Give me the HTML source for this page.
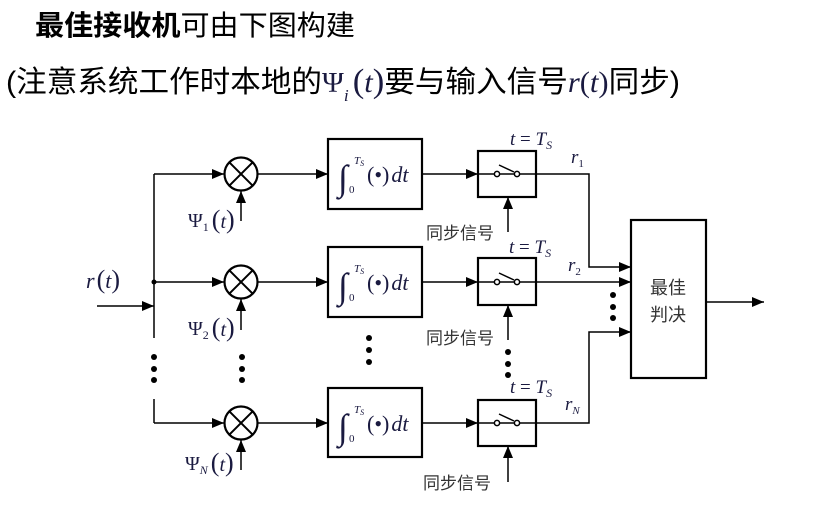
<!DOCTYPE html>
<html><head><meta charset="utf-8"><style>
html,body{margin:0;padding:0;background:#fff;width:833px;height:507px;overflow:hidden}
svg{display:block}
.cj{font-family:"Liberation Sans","Noto Sans CJK SC",sans-serif}
.m{font-family:"Liberation Serif",serif;fill:#1a1a40}
</style></head><body>
<svg width="833" height="507" viewBox="0 0 833 507" xmlns="http://www.w3.org/2000/svg">
<defs>
<marker id="au" markerWidth="12" markerHeight="10" refX="12" refY="5" orient="auto" markerUnits="userSpaceOnUse"><path d="M0,0 L12,5 L0,10 z" fill="#000"/></marker>
</defs>
<text x="35" y="35" class="cj" font-size="28" fill="#000" textLength="320" lengthAdjust="spacingAndGlyphs"><tspan font-weight="bold">最佳接收机</tspan>可由下图构建</text>
<text x="6" y="92" class="cj" font-size="30" fill="#000" textLength="674" lengthAdjust="spacingAndGlyphs">(注意系统工作时本地的<tspan class="m" font-size="29" fill="#000">Ψ</tspan><tspan class="m" font-size="17" font-style="italic" dy="9">i</tspan><tspan class="m" font-size="34" dy="-9" dx="4">(</tspan><tspan class="m" font-style="italic">t</tspan><tspan class="m" font-size="34">)</tspan>要与输入信号<tspan class="m" font-style="italic">r</tspan><tspan class="m">(</tspan><tspan class="m" font-style="italic">t</tspan><tspan class="m">)</tspan>同步)</text>

<g stroke="#000" stroke-width="1.5" fill="none">
<line x1="154" y1="174" x2="154" y2="338"/>
<line x1="154" y1="399" x2="154" y2="423"/>
<line x1="97" y1="306" x2="154" y2="306" marker-end="url(#au)"/>
<line x1="154" y1="174" x2="224" y2="174" marker-end="url(#au)"/>
<line x1="154" y1="282" x2="224" y2="282" marker-end="url(#au)"/>
<line x1="154" y1="423" x2="224" y2="423" marker-end="url(#au)"/>
<line x1="258" y1="174" x2="328" y2="174" marker-end="url(#au)"/>
<line x1="258" y1="282" x2="328" y2="282" marker-end="url(#au)"/>
<line x1="258" y1="423" x2="328" y2="423" marker-end="url(#au)"/>
<line x1="422" y1="174" x2="478" y2="174" marker-end="url(#au)"/>
<line x1="422" y1="282" x2="478" y2="282" marker-end="url(#au)"/>
<line x1="422" y1="423" x2="478" y2="423" marker-end="url(#au)"/>
<line x1="241" y1="221" x2="241" y2="191" marker-end="url(#au)"/>
<line x1="241" y1="330" x2="241" y2="299" marker-end="url(#au)"/>
<line x1="241" y1="470" x2="241" y2="440" marker-end="url(#au)"/>
<line x1="508" y1="232" x2="508" y2="197" marker-end="url(#au)"/>
<line x1="508" y1="340" x2="508" y2="305" marker-end="url(#au)"/>
<line x1="508" y1="482" x2="508" y2="446" marker-end="url(#au)"/>
<polyline points="536,174 589,174 589,267 631,267" marker-end="url(#au)"/>
<line x1="536" y1="282" x2="631" y2="282" marker-end="url(#au)"/>
<polyline points="536,423 589,423 589,332 631,332" marker-end="url(#au)"/>
<line x1="706" y1="302" x2="764" y2="302" marker-end="url(#au)"/>
</g>
<g stroke="#000" stroke-width="2.2" fill="#fff">
<circle cx="241" cy="174" r="16.5"/><circle cx="241" cy="282" r="16.5"/><circle cx="241" cy="423" r="16.5"/>
<rect x="328" y="139" width="94" height="70"/><rect x="328" y="247" width="94" height="70"/><rect x="328" y="388" width="94" height="69"/>
<rect x="478" y="151" width="58" height="46"/><rect x="478" y="258" width="58" height="47"/><rect x="478" y="400" width="58" height="46"/>
<rect x="631" y="220" width="75" height="158"/>
</g>
<g stroke="#000" stroke-width="2">
<path d="M229.3,162.3 L252.7,185.7 M252.7,162.3 L229.3,185.7"/>
<path d="M229.3,270.3 L252.7,293.7 M252.7,270.3 L229.3,293.7"/>
<path d="M229.3,411.3 L252.7,434.7 M252.7,411.3 L229.3,434.7"/>
</g>
<g stroke="#000" stroke-width="1.5">
<line x1="478" y1="174" x2="536" y2="174"/><line x1="478" y1="282" x2="536" y2="282"/><line x1="478" y1="423" x2="536" y2="423"/>
<line x1="499" y1="165" x2="514" y2="172"/><line x1="499" y1="273" x2="514" y2="280"/><line x1="499" y1="414" x2="514" y2="421"/>
</g>
<g stroke="#000" stroke-width="1.5" fill="#fff">
<circle cx="497" cy="174" r="2.6"/><circle cx="517" cy="174" r="2.6"/>
<circle cx="497" cy="282" r="2.6"/><circle cx="517" cy="282" r="2.6"/>
<circle cx="497" cy="423" r="2.6"/><circle cx="517" cy="423" r="2.6"/>
</g>
<circle cx="154" cy="282" r="2.5" fill="#000"/>
<g fill="#000">
<circle cx="154" cy="357" r="3"/><circle cx="154" cy="369" r="3"/><circle cx="154" cy="380" r="3"/>
<circle cx="242" cy="357" r="3"/><circle cx="242" cy="369" r="3"/><circle cx="242" cy="380" r="3"/>
<circle cx="369" cy="338" r="3"/><circle cx="369" cy="350" r="3"/><circle cx="369" cy="362" r="3"/>
<circle cx="508" cy="352" r="3"/><circle cx="508" cy="364" r="3"/><circle cx="508" cy="375" r="3"/>
<circle cx="613" cy="295" r="3"/><circle cx="613" cy="307" r="3"/><circle cx="613" cy="318" r="3"/>
</g>
<text x="86" y="288" class="m" font-size="22"><tspan font-style="italic">r</tspan><tspan font-size="26" dx="2">(</tspan><tspan font-style="italic">t</tspan><tspan font-size="26">)</tspan></text>
<g class="m" font-size="20">
<text x="188" y="227">Ψ<tspan font-size="12" dy="4">1</tspan><tspan font-size="26" dy="-3" dx="3">(</tspan><tspan font-style="italic">t</tspan><tspan font-size="26">)</tspan></text>
<text x="188" y="335">Ψ<tspan font-size="12" dy="4">2</tspan><tspan font-size="26" dy="-3" dx="3">(</tspan><tspan font-style="italic">t</tspan><tspan font-size="26">)</tspan></text>
<text x="185" y="470">Ψ<tspan font-size="12" font-style="italic" dy="4">N</tspan><tspan font-size="26" dy="-3" dx="3">(</tspan><tspan font-style="italic">t</tspan><tspan font-size="26">)</tspan></text>
</g>
<g class="m">
<g>
<text x="338" y="190" font-size="36">∫</text>
<text x="354" y="164" font-size="11" font-style="italic">T<tspan font-size="8" dy="2">S</tspan></text>
<text x="349" y="193" font-size="11">0</text>
<text x="367" y="182" font-size="22">(•)<tspan font-style="italic" dx="2">dt</tspan></text>
</g>
<g transform="translate(0,108)">
<text x="338" y="190" font-size="36">∫</text>
<text x="354" y="164" font-size="11" font-style="italic">T<tspan font-size="8" dy="2">S</tspan></text>
<text x="349" y="193" font-size="11">0</text>
<text x="367" y="182" font-size="22">(•)<tspan font-style="italic" dx="2">dt</tspan></text>
</g>
<g transform="translate(0,249)">
<text x="338" y="190" font-size="36">∫</text>
<text x="354" y="164" font-size="11" font-style="italic">T<tspan font-size="8" dy="2">S</tspan></text>
<text x="349" y="193" font-size="11">0</text>
<text x="367" y="182" font-size="22">(•)<tspan font-style="italic" dx="2">dt</tspan></text>
</g>
</g>
<g class="m" font-size="19">
<text x="510" y="145"><tspan font-style="italic">t</tspan> = <tspan font-style="italic">T</tspan><tspan font-size="12" font-style="italic" dy="4">S</tspan></text>
<text x="509" y="253"><tspan font-style="italic">t</tspan> = <tspan font-style="italic">T</tspan><tspan font-size="12" font-style="italic" dy="4">S</tspan></text>
<text x="510" y="393"><tspan font-style="italic">t</tspan> = <tspan font-style="italic">T</tspan><tspan font-size="12" font-style="italic" dy="4">S</tspan></text>
<text x="571" y="163" font-style="italic">r<tspan font-size="11" font-style="normal" dy="4">1</tspan></text>
<text x="568" y="271" font-style="italic">r<tspan font-size="11" font-style="normal" dy="4">2</tspan></text>
<text x="565" y="410" font-style="italic">r<tspan font-size="11" dy="4">N</tspan></text>
</g>
<g class="cj" font-size="17" fill="#333">
<text x="426" y="239">同步信号</text>
<text x="426" y="344">同步信号</text>
<text x="423" y="489">同步信号</text>
</g>
<g class="cj" font-size="18" fill="#333">
<text x="650" y="294">最佳</text>
<text x="650" y="321">判决</text>
</g>
</svg>
</body></html>
